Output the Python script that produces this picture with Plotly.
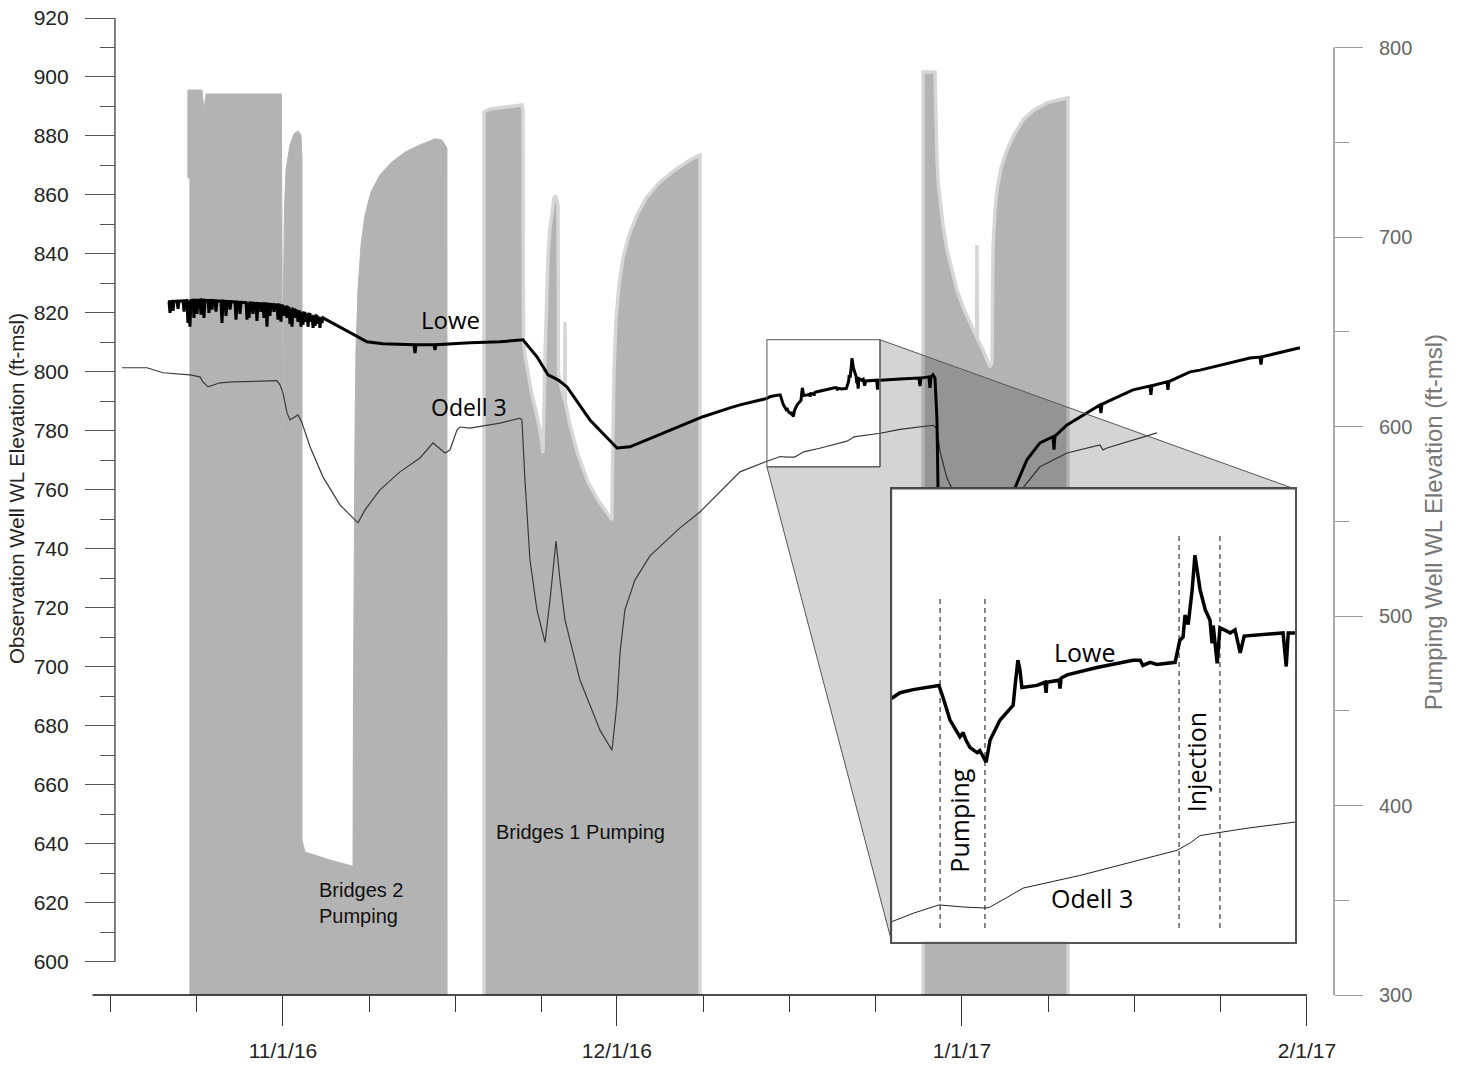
import plotly.graph_objects as go

# ---------------- data ----------------
# x values are days after 11/1/2016
month_ticks = [0, 30, 61, 92]
month_labels = ["11/1/16", "12/1/16", "1/1/17", "2/1/17"]
week_ticks = [-15.5, -7.75, 7.75, 15.5, 23.25, 37.75, 45.5, 53.25, 68.75, 76.5, 84.25]

obs_ticks = [600, 620, 640, 660, 680, 700, 720, 740, 760, 780, 800, 820, 840, 860, 880, 900, 920]
obs_minor = [610, 630, 650, 670, 690, 710, 730, 750, 770, 790, 810, 830, 850, 870, 890, 910]
pump_ticks = [300, 400, 500, 600, 700, 800]
pump_minor = [350, 450, 550, 650, 750]

# Pumping well WL (ft-msl): upper envelope of the dense cycling record (280 = below chart)
b2_day = [-8.36, -8.36, -8.54, -8.54, -7.28, -7.10, -6.92, -0.15, 0.00, 0.04, 0.13, 0.27, 0.63,
          0.99, 1.35, 1.62, 1.71, 1.71, 1.98, 4.22, 6.20, 6.29, 6.33, 6.38, 6.47, 6.56, 6.74, 7.01,
          7.37, 7.91, 8.71, 9.79, 10.96, 12.31, 13.66, 14.29, 14.73, 14.74]
b2_ft = [280, 731.2, 731.2, 777.6, 777.6, 766.5, 775.5, 775.5, 571.8, 666.8, 714.3, 735.4, 748.6,
         754.4, 756.0, 753.9, 740.7, 381.8, 375.5, 371.2, 368.1, 367.6, 455.7, 529.6, 598.2, 640.4,
         672.1, 695.8, 711.7, 723.8, 732.8, 739.6, 744.8, 748.6, 751.8, 751.2, 747.0, 280]

b1_day = [18.06, 18.06, 18.60, 20.39, 21.47, 21.56, 21.56, 21.61, 21.74, 22.01, 22.28, 22.64,
          23.00, 23.27, 23.36, 23.54, 23.67, 23.81, 23.99, 24.17, 24.35, 24.53, 24.71, 24.75,
          24.98, 25.29, 25.34, 25.38, 25.79, 26.51, 27.40, 28.30, 29.02, 29.56, 29.60, 29.65,
          29.74, 29.92, 30.19, 30.55, 31.09, 31.81, 32.71, 33.87, 35.22, 36.57, 37.46, 37.47]
b1_ft = [280, 766.0, 767.6, 769.2, 769.7, 767.1, 656.2, 645.7, 637.8, 628.3, 619.3, 610.3,
         600.8, 591.3, 586.0, 636.7, 666.8, 689.5, 704.8, 714.3, 720.6, 721.7, 717.0, 628.3,
         620.9, 614.0, 655.2, 612.4, 600.8, 585.0, 570.7, 561.2, 554.9, 550.7, 577.1, 603.5,
         629.9, 656.2, 674.7, 689.0, 701.1, 711.7, 721.2, 729.1, 735.4, 740.7, 743.3, 280]

b3_day = [57.50, 57.50, 58.58, 58.67, 58.76, 58.89, 59.03, 59.30, 59.66, 60.11, 60.55, 61.09,
          61.72, 62.31, 62.35, 62.40, 62.89, 63.25, 63.52, 63.70, 63.75, 63.79, 63.97, 64.15,
          64.51, 65.05, 65.68, 66.49, 67.48, 68.64, 69.63, 70.53, 70.54]
b3_ft = [280, 787.1, 787.1, 761.8, 740.7, 727.5, 719.6, 706.4, 693.2, 681.6, 672.1, 663.1,
         654.7, 647.3, 695.8, 646.2, 640.4, 635.7, 631.4, 633.5, 666.8, 693.2, 714.3, 724.8,
         736.5, 746.0, 753.9, 761.8, 767.1, 770.8, 772.3, 773.4, 280]

# Observation wells (ft-msl)
lowe_day = [-10.33, -10.24, -10.15, -10.06, -9.97, -9.88, -9.79, -9.52, -9.43, -9.34, -8.98,
            -8.89, -8.80, -8.63, -8.54, -8.45, -8.36, -8.27, -8.09, -8.00, -7.91, -7.82, -7.73,
            -7.64, -7.46, -7.37, -7.28, -7.19, -7.10, -7.01, -6.74, -6.65, -6.56, -6.47, -6.38,
            -6.29, -6.11, -6.02, -5.93, -5.57, -5.48, -5.39, -5.21, -5.12, -5.03, -4.85, -4.76,
            -4.67, -4.31, -4.22, -4.13, -3.95, -3.86, -3.77, -3.32, -3.23, -3.14, -3.05, -2.96,
            -2.79, -2.70, -2.61, -2.43, -2.34, -2.25, -2.07, -1.98, -1.89, -1.80, -1.71, -1.62,
            -1.53, -1.44, -1.35, -1.26, -1.17, -1.08, -0.90, -0.81, -0.72, -0.54, -0.45, -0.36,
            -0.27, -0.18, -0.09, 0.00, 0.09, 0.18, 0.27, 0.36, 0.45, 0.54, 0.63, 0.72, 0.81,
            0.90, 0.99, 1.08, 1.17, 1.26, 1.35, 1.44, 1.53, 1.62, 1.71, 1.80, 1.89, 1.98, 2.07,
            2.16, 2.25, 2.34, 2.43, 2.52, 2.61, 2.70, 2.79, 2.88, 2.97, 3.05, 3.14, 3.23, 3.32,
            3.41, 3.50, 3.59,
            6.02, 7.55, 8.98, 11.77, 11.86, 11.95, 13.57, 13.66, 13.75, 16.80, 19.50, 21.56, 22.82,
            23.81, 24.71, 25.52, 27.58, 30.01, 31.18, 34.77, 37.73, 40.16, 41.06,
            43.49, 43.69, 44.02, 44.37, 44.67, 44.77, 44.95, 45.20, 45.28, 45.35, 45.45, 45.63,
            45.70, 45.86, 45.96, 46.21, 46.54, 46.59, 46.66, 46.71, 46.76, 47.14, 47.34, 47.37,
            47.39, 47.70, 47.72, 47.75, 47.90, 48.65, 49.56, 49.74, 49.81, 49.99, 50.16, 50.62,
            50.69, 50.74, 50.82, 50.87, 50.95, 51.05, 51.12, 51.25, 51.38, 51.50, 51.55, 51.58,
            51.68, 51.75, 52.01, 52.13, 52.26, 52.36, 53.34, 53.42, 53.47, 53.67,
            55.43, 57.14, 57.23, 57.32, 58.04, 58.13, 58.22, 58.40, 58.58, 58.76, 58.85, 59.50,
            62.00, 64.00, 65.77, 66.84, 68.01, 69.18, 69.27, 69.36, 70.44, 72.23, 73.40, 73.49,
            73.58, 74.03, 76.37, 77.89, 77.98, 78.07, 79.42, 79.51, 79.60, 81.49, 82.39, 86.88,
            87.78, 87.87, 87.96, 91.37]
lowe_ft = [823.8, 823.8, 820.0, 823.8, 823.9, 820.7, 823.9, 824.0, 821.4, 824.0, 824.1,
           820.4, 824.1, 824.2, 816.6, 824.2, 815.3, 824.2, 824.3, 818.3, 824.3, 824.3, 819.7,
           824.3, 824.4, 819.4, 824.4, 824.3, 818.3, 824.3, 824.2, 820.0, 824.2, 824.2, 821.1,
           824.2, 824.1, 820.4, 824.1, 824.0, 816.6, 824.0, 823.9, 819.0, 823.9, 823.8, 821.1,
           823.8, 823.7, 817.7, 823.7, 823.6, 819.7, 823.6, 823.5, 817.7, 823.5, 818.3, 823.4,
           823.3, 819.7, 823.3, 823.2, 817.3, 823.2, 823.1, 820.4, 823.1, 823.1, 818.3, 823.1,
           823.0, 815.3, 823.0, 822.9, 819.0, 822.9, 822.8, 820.4, 822.8, 822.7, 817.7, 822.7,
           822.6, 817.0, 822.6, 822.3, 819.0, 822.2, 821.9, 818.3, 821.8, 821.6, 816.3, 821.4,
           815.3, 821.2, 821.0, 818.3, 820.8, 820.6, 817.0, 820.4, 820.3, 815.3, 820.2, 816.0,
           820.0, 819.9, 817.0, 819.8, 815.3, 819.6, 819.5, 817.0, 819.3, 814.9, 819.1, 815.6,
           819.0, 818.9, 816.3, 818.7, 814.9, 818.5, 816.6, 818.3,
           813.3, 810.2, 809.5, 809.2, 806.4, 809.2, 809.2, 807.4, 809.2, 809.9, 810.2, 810.9, 805.1,
           799.0, 797.3, 794.9, 783.7, 774.2, 774.6, 780.3, 784.8, 787.8, 788.8,
           791.0, 791.5, 791.8, 792.0, 792.2, 791.1, 788.9, 787.3, 787.7, 787.0, 786.3, 785.8,
           786.0, 784.9, 787.0, 788.9, 790.3, 792.2, 794.6, 793.7, 792.0, 792.2, 792.5, 791.5,
           792.5, 792.7, 791.9, 792.9, 793.2, 793.9, 794.6, 794.6, 794.1, 794.4, 794.2, 794.4,
           795.6, 796.5, 796.8, 798.9, 798.0, 801.3, 804.6, 801.3, 799.4, 798.4, 796.2, 797.9,
           794.3, 797.7, 797.2, 797.5, 795.3, 796.9, 797.2, 794.0, 797.2, 797.2,
           797.6, 797.9, 795.2, 797.9, 798.3, 794.6, 798.3, 799.0, 797.9, 783.7, 761.0, 738.0,
           732.0, 742.0, 760.7, 770.2, 775.9, 778.0, 773.6, 778.2, 782.0, 786.1, 788.8, 786.0,
           789.0, 789.8, 793.9, 795.2, 792.2, 795.3, 796.6, 793.9, 796.7, 800.0, 800.6, 804.7,
           805.0, 802.5, 805.1, 808.2]

odell_day = [-14.47, -12.22, -10.78, -8.36, -7.46, -7.19, -6.74, -5.66, -4.49, -0.54, -0.27, 0.00,
             0.36, 0.63, 1.35, 1.71, 2.43, 3.59, 5.12, 6.74, 7.37, 8.71, 10.51, 12.31, 13.48,
             14.56, 15.00, 15.63, 15.90, 16.80, 19.50, 21.29, 21.47, 21.74, 22.19, 22.82, 23.54,
             23.99, 24.53, 24.89, 25.34, 26.68, 28.48, 29.56, 30.01, 30.28, 30.72, 31.62, 32.97,
             35.67, 37.46, 41.06,
             43.49, 44.02, 44.67, 45.28, 45.86, 45.96, 46.38, 46.79, 48.22, 49.74, 50.67, 51.00,
             51.25, 51.58, 52.43, 53.67,
             55.43, 58.40, 58.76, 59.03, 59.66, 60.11, 61.50, 63.50, 66.49, 68.01, 70.44, 73.40,
             73.67, 74.03, 78.52]
odell_ft = [801.4, 801.4, 799.7, 799.0, 798.3, 796.6, 794.9, 796.3, 796.6, 797.0, 795.6, 792.9,
            786.1, 783.7, 785.4, 782.7, 774.6, 764.4, 754.9, 748.8, 753.2, 760.0, 766.1, 770.8, 775.9,
            772.5, 773.5, 780.3, 781.3, 780.9, 782.6, 784.3, 783.7, 763.3, 736.2, 719.2, 708.3,
            722.6, 742.6, 729.4, 715.8, 695.5, 678.5, 671.7, 687.7, 704.7, 719.3, 729.4, 737.6,
            747.1, 752.5, 766.1,
            769.7, 770.5, 771.3, 771.1, 771.0, 771.1, 772.0, 772.9, 774.1, 775.6, 776.5, 777.2,
            777.9, 778.1, 778.6, 779.2,
            780.5, 781.9, 780.8, 773.0, 763.9, 760.5, 745.0, 743.0, 760.7, 767.8, 772.5, 775.2,
            773.5, 774.2, 779.3]

# zoom window shown in the inset and the test periods marked there
inset_days = [43.48, 53.64]
inset_ft = [767.8, 810.9]
pumping_period = [44.70, 45.83]
injection_period = [50.72, 51.75]
pumping_line_top = 800.6
injection_line_top = 806.7
event_line_bottom = 769.1

# ---------------- layout constants ----------------
W, H = 1461, 1065
PLOT_L, PLOT_T, PLOT_W, PLOT_H = 95, 18, 1239, 977   # plot area in figure pixels
ML, MT = PLOT_L, PLOT_T
MR = W - ML - PLOT_W
MB = H - MT - PLOT_H
X_RANGE = [-16.89, 94.43]
OBS_RANGE = [588.7, 920.0]
PUMP_RANGE = [300.0, 815.6]
LEFT_AXIS_POS = 0.0161
INSET_XDOM = [0.643, 0.9685]
INSET_YDOM = [0.0546, 0.5179]

FILL = "#b3b3b3"
EDGE = "#d6d6d6"
SANS = "Liberation Sans, Arial, sans-serif"
HUMAN = "Open Sans, Lato, sans-serif"

fig = go.Figure()

# pumping well areas (right axis)
fig.add_trace(go.Scatter(x=b2_day, y=b2_ft, mode="lines", fill="tozeroy", fillcolor=FILL,
                         line=dict(color=FILL, width=1), xaxis="x", yaxis="y", hoverinfo="skip"))
for d, v in ((b1_day, b1_ft), (b3_day, b3_ft)):
    fig.add_trace(go.Scatter(x=d, y=v, mode="lines", fill="tozeroy", fillcolor=FILL,
                             line=dict(color=EDGE, width=3.5), xaxis="x", yaxis="y", hoverinfo="skip"))

# observation wells (left axis)
fig.add_trace(go.Scatter(x=odell_day, y=odell_ft, mode="lines", line=dict(color="#3a3a3a", width=1.2),
                         xaxis="x", yaxis="y2"))
fig.add_trace(go.Scatter(x=lowe_day, y=lowe_ft, mode="lines", line=dict(color="#000", width=3),
                         xaxis="x", yaxis="y2"))

# inset (same records, zoomed)
fig.add_trace(go.Scatter(x=odell_day, y=odell_ft, mode="lines", line=dict(color="#222", width=1),
                         xaxis="x3", yaxis="y3"))
fig.add_trace(go.Scatter(x=lowe_day, y=lowe_ft, mode="lines", line=dict(color="#000", width=3.5),
                         xaxis="x3", yaxis="y3"))


def px_x(d):
    return (d - X_RANGE[0]) / (X_RANGE[1] - X_RANGE[0])


def py_obs(v):
    return (v - OBS_RANGE[0]) / (OBS_RANGE[1] - OBS_RANGE[0])


shapes = []
# axis lines
shapes.append(dict(type="line", xref="paper", yref="y2", x0=LEFT_AXIS_POS, x1=LEFT_AXIS_POS,
                   y0=obs_ticks[0], y1=obs_ticks[-1], line=dict(color="#555", width=1.5), layer="above"))
shapes.append(dict(type="line", xref="paper", yref="y", x0=1, x1=1,
                   y0=pump_ticks[0], y1=pump_ticks[-1], line=dict(color="#aaa", width=2), layer="above"))
shapes.append(dict(type="line", xref="paper", yref="paper", x0=-0.002, x1=px_x(month_ticks[-1]),
                   y0=0, y1=0, line=dict(color="#111", width=1.5), layer="above"))

# zoom connector
sx0, sx1 = px_x(inset_days[0]), px_x(inset_days[1])
sy0, sy1 = py_obs(inset_ft[0]), py_obs(inset_ft[1])
ix0, ix1 = INSET_XDOM
iy0, iy1 = INSET_YDOM
path = (f"M{sx0},{sy0} L{sx1},{sy0} L{sx1},{sy1} L{ix1},{iy1} "
        f"L{ix0},{iy1} L{ix0},{iy0} Z")
shapes.append(dict(type="path", xref="paper", yref="paper", path=path,
                   fillcolor="rgba(0,0,0,0.17)", line=dict(color="#555", width=1), layer="above"))
shapes.append(dict(type="rect", xref="x", yref="y2", x0=inset_days[0], x1=inset_days[1],
                   y0=inset_ft[0], y1=inset_ft[1], line=dict(color="#555", width=1), layer="above"))

# dashed event lines in inset
for d in pumping_period:
    shapes.append(dict(type="line", xref="x3", yref="y3", x0=d, x1=d, y0=event_line_bottom,
                       y1=pumping_line_top, line=dict(color="#111", width=1, dash="5px,4px"), layer="below"))
for d in injection_period:
    shapes.append(dict(type="line", xref="x3", yref="y3", x0=d, x1=d, y0=event_line_bottom,
                       y1=injection_line_top, line=dict(color="#111", width=1, dash="5px,4px"), layer="below"))

annotations = [
    dict(text="Observation Well WL Elevation (ft-msl)", xref="paper", yref="paper",
         x=(17 - PLOT_L) / PLOT_W, y=0.518, textangle=-90, showarrow=False,
         xanchor="center", yanchor="middle",
         font=dict(family=SANS, size=20.5, color="#222")),
    dict(text="Pumping Well WL Elevation (ft-msl)", xref="paper", yref="paper",
         x=(1433 - PLOT_L) / PLOT_W, y=0.484, textangle=-90, showarrow=False,
         xanchor="center", yanchor="middle",
         font=dict(family=SANS, size=24, color="#777")),
    dict(text="Lowe", xref="x", yref="y2", x=15.09, y=817.7, showarrow=False,
         font=dict(family=HUMAN, size=24, color="#000")),
    dict(text="Odell 3", xref="x", yref="y2", x=16.71, y=788.2, showarrow=False,
         font=dict(family=HUMAN, size=23, color="#000")),
    dict(text="Bridges 2<br>Pumping", xref="x", yref="y2", x=3.05, y=619.9, showarrow=False,
         xanchor="left", yanchor="middle", align="left", font=dict(family=SANS, size=20, color="#111")),
    dict(text="Bridges 1 Pumping", xref="x", yref="y2", x=26.77, y=644.0, showarrow=False,
         font=dict(family=SANS, size=20, color="#111")),
    dict(text="Lowe", xref="x3", yref="y3", x=48.35, y=795.4, showarrow=False,
         font=dict(family=HUMAN, size=25, color="#000")),
    dict(text="Odell 3", xref="x3", yref="y3", x=48.53, y=772.0, showarrow=False,
         font=dict(family=HUMAN, size=25, color="#000")),
    dict(text="Pumping", xref="x3", yref="y3", x=45.17, y=779.3, textangle=-90, showarrow=False,
         xanchor="center", yanchor="middle", font=dict(family=HUMAN, size=25, color="#000")),
    dict(text="Injection", xref="x3", yref="y3", x=51.15, y=784.9, textangle=-90, showarrow=False,
         xanchor="center", yanchor="middle", font=dict(family=HUMAN, size=25, color="#000")),
]

fig.update_layout(
    width=W, height=H, autosize=False,
    margin=dict(l=ML, r=MR, t=MT, b=MB, pad=0),
    paper_bgcolor="white", plot_bgcolor="white",
    showlegend=False,
    shapes=shapes, annotations=annotations,
    xaxis=dict(domain=[0, 1], range=X_RANGE, tickmode="array", tickvals=month_ticks,
               ticktext=month_labels, ticks="outside", ticklen=30, tickwidth=1.3, tickcolor="#333",
               minor=dict(tickmode="array", tickvals=week_ticks, ticks="outside", ticklen=16,
                          tickwidth=1.3, tickcolor="#333"),
               ticklabelstandoff=7, automargin=False, ticklabeloverflow="allow",
               showline=False, showgrid=False, zeroline=False,
               tickfont=dict(family=SANS, size=21, color="#222")),
    yaxis=dict(range=PUMP_RANGE, side="right", anchor="x", tickmode="array", tickvals=pump_ticks,
               ticks="outside", ticklen=28, tickwidth=1.3, tickcolor="#999",
               minor=dict(tickmode="array", tickvals=pump_minor, ticks="outside", ticklen=14,
                          tickwidth=1.3, tickcolor="#999"),
               ticklabelstandoff=12, automargin=False, ticklabeloverflow="allow",
               showline=False, showgrid=False, zeroline=False,
               tickfont=dict(family=SANS, size=20, color="#666")),
    yaxis2=dict(range=OBS_RANGE, overlaying="y", side="left", anchor="free", position=LEFT_AXIS_POS,
                tickmode="array", tickvals=obs_ticks, ticks="outside", ticklen=30, tickwidth=1.3,
                tickcolor="#555",
                minor=dict(tickmode="array", tickvals=obs_minor, ticks="outside", ticklen=15,
                           tickwidth=1.3, tickcolor="#555"),
                ticklabelstandoff=12, automargin=False, ticklabeloverflow="allow",
                showline=False, showgrid=False, zeroline=False,
                tickfont=dict(family=SANS, size=21, color="#222")),
    xaxis3=dict(domain=INSET_XDOM, anchor="y3", range=inset_days, showticklabels=False, ticks="",
                showline=True, mirror=True, linecolor="#555", linewidth=1.5, automargin=False,
                showgrid=False, zeroline=False),
    yaxis3=dict(domain=INSET_YDOM, anchor="x3", range=inset_ft, showticklabels=False, ticks="",
                showline=True, mirror=True, linecolor="#555", linewidth=1.5, automargin=False,
                showgrid=False, zeroline=False),
)

# place the figure at the page origin (no default body margin); no mode bar
fig.write_html("out.html", config={"displayModeBar": False},
               post_script="document.body.style.margin='0px';")
